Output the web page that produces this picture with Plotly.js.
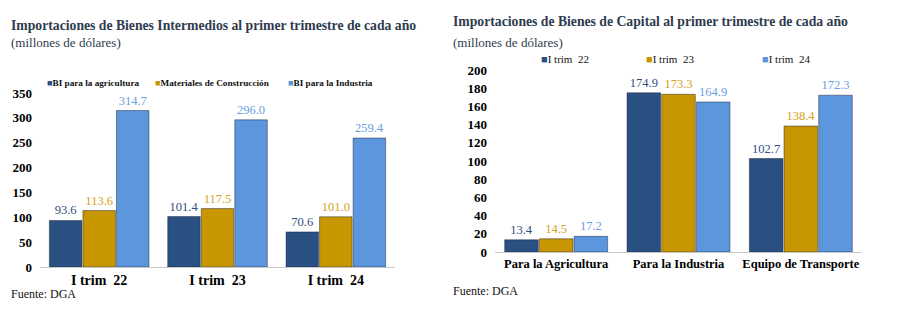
<!DOCTYPE html>
<html><head><meta charset="utf-8">
<script src="https://cdn.plot.ly/plotly-3.0.1.min.js"></script>
<style>
html,body{margin:0;padding:0;background:#fff;font-family:'Liberation Serif'}
#chart svg text{font-family:'Liberation Serif', serif !important}
</style>
</head><body><div id="chart" style="width:898px;height:330px"></div>
<script>
// Left chart: Bienes Intermedios
const leftCategories = ['I trim  22', 'I trim  23', 'I trim  24'];
const leftSeriesNames = ['BI para la agricultura', 'Materiales de Construcción', 'BI para la Industria'];
const leftAgricultura = [93.6, 101.4, 70.6];
const leftConstruccion = [113.6, 117.5, 101.0];
const leftIndustria = [314.7, 296.0, 259.4];
const leftTicks = [0, 50, 100, 150, 200, 250, 300, 350];

// Right chart: Bienes de Capital
const rightCategories = ['Para la Agricultura', 'Para la Industria', 'Equipo de Transporte'];
const rightSeriesNames = ['I trim  22', 'I trim  23', 'I trim  24'];
const rightTrim22 = [13.4, 174.9, 102.7];
const rightTrim23 = [14.5, 173.3, 138.4];
const rightTrim24 = [17.2, 164.9, 172.3];
const rightTicks = [0, 20, 40, 60, 80, 100, 120, 140, 160, 180, 200];

const barColors = ['#2A5082', '#C89600', '#5C96DC'];
const labelColors = ['#2F4F80', '#D4A21A', '#6A9EE2'];
const FONT = 'Liberation Serif';

function mk(x, y, i, xa, ya, name) {
  return {
    type: 'bar', x: x, y: y, name: name, xaxis: xa, yaxis: ya,
    marker: {color: barColors[i], line: {color: 'rgba(20,30,50,0.45)', width: 1}},
    text: y.map(v => v.toFixed(1)), textposition: 'outside', cliponaxis: false,
    textfont: {family: FONT, size: 12.5, color: labelColors[i]},
    showlegend: false, hoverinfo: 'x+y'
  };
}

const data = [
  mk(leftCategories, leftAgricultura, 0, 'x', 'y', leftSeriesNames[0]),
  mk(leftCategories, leftConstruccion, 1, 'x', 'y', leftSeriesNames[1]),
  mk(leftCategories, leftIndustria, 2, 'x', 'y', leftSeriesNames[2]),
  mk(rightCategories, rightTrim22, 0, 'x2', 'y2', rightSeriesNames[0]),
  mk(rightCategories, rightTrim23, 1, 'x2', 'y2', rightSeriesNames[1]),
  mk(rightCategories, rightTrim24, 2, 'x2', 'y2', rightSeriesNames[2])
];

const W = 898, H = 330;
const px = v => v / W, py = v => (H - v) / H;

const axisX = {
  showgrid: false, zeroline: false, showline: true, linecolor: '#c8c8c8', linewidth: 1,
  ticks: '', tickangle: 0, fixedrange: true
};
const axisY = {
  showgrid: false, zeroline: false, showline: false, ticks: '', ticklabelstandoff: 7,
  tickfont: {family: FONT, size: 13, color: '#000', weight: 'bold'}, fixedrange: true
};

function legendAnn(y, names, xs, size, bold) {
  return names.map((n, i) => ({
    xref: 'paper', yref: 'paper', x: px(xs[i]), y: py(y), xanchor: 'left', yanchor: 'middle',
    showarrow: false,
    text: '<span style="color:' + barColors[i] + '">■</span>' + (bold ? '<b>' + n + '</b>' : n),
    font: {family: FONT, size: size, color: '#111'}
  }));
}

const annotations = [
  {xref:'paper', yref:'paper', x: px(9), y: py(25), xanchor:'left', yanchor:'middle', showarrow:false,
   text:'<b>Importaciones de Bienes Intermedios al primer trimestre de cada año</b>',
   font:{family: FONT, size: 13.7, color:'#2E3B4E'}},
  {xref:'paper', yref:'paper', x: px(9), y: py(43), xanchor:'left', yanchor:'middle', showarrow:false,
   text:'(millones de dólares)', font:{family: FONT, size: 13, color:'#2E3B4E'}},
  {xref:'paper', yref:'paper', x: px(451), y: py(22), xanchor:'left', yanchor:'middle', showarrow:false,
   text:'<b>Importaciones de Bienes de Capital al primer trimestre de cada año</b>',
   font:{family: FONT, size: 13.7, color:'#2E3B4E'}},
  {xref:'paper', yref:'paper', x: px(451), y: py(42), xanchor:'left', yanchor:'middle', showarrow:false,
   text:'(millones de dólares)', font:{family: FONT, size: 13, color:'#2E3B4E'}},
  {xref:'paper', yref:'paper', x: px(9), y: py(294), xanchor:'left', yanchor:'middle', showarrow:false,
   text:'Fuente: DGA', font:{family: FONT, size: 12, color:'#111'}},
  {xref:'paper', yref:'paper', x: px(451), y: py(291), xanchor:'left', yanchor:'middle', showarrow:false,
   text:'Fuente: DGA', font:{family: FONT, size: 12, color:'#111'}}
].concat(
  legendAnn(83, leftSeriesNames, [45, 153, 286], 9.2, true),
  legendAnn(59, rightSeriesNames, [539, 644, 760], 11, false)
);

const layout = {
  width: W, height: H,
  margin: {l: 0, r: 0, t: 0, b: 0},
  paper_bgcolor: '#fff', plot_bgcolor: '#fff',
  barmode: 'group', bargap: 0.15, bargroupgap: 0.03,
  showlegend: false,
  xaxis: Object.assign({}, axisX, {domain: [px(40), px(395)], anchor: 'y',
    tickfont: {family: FONT, size: 14, color: '#000', weight: 'bold'}}),
  yaxis: Object.assign({}, axisY, {domain: [py(267), py(93)], range: [0, 350], tickvals: leftTicks, anchor: 'x'}),
  xaxis2: Object.assign({}, axisX, {domain: [px(495), px(862)], anchor: 'y2',
    tickfont: {family: FONT, size: 12.5, color: '#000', weight: 'bold'}}),
  yaxis2: Object.assign({}, axisY, {domain: [py(252), py(70)], range: [0, 200], tickvals: rightTicks, anchor: 'x2'}),
  annotations: annotations,
  font: {family: FONT}
};

function draw() {
  Plotly.newPlot('chart', data, layout, {displayModeBar: false, staticPlot: true});
}
if (document.fonts && document.fonts.load) {
  Promise.all([
    document.fonts.load('14px "Liberation Serif"'),
    document.fonts.load('bold 14px "Liberation Serif"')
  ]).then(draw, draw);
} else {
  draw();
}
</script></body></html>
